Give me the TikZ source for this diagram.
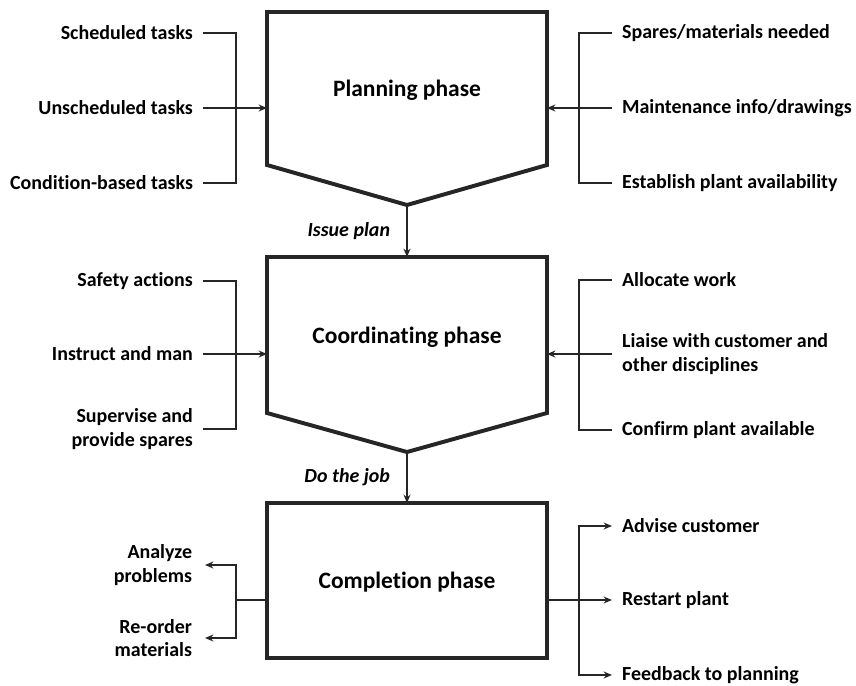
\documentclass[tikz,border=0pt]{standalone}
\usepackage{fontspec}
\setmainfont{Carlito}[Ligatures=NoCommon]
\usetikzlibrary{arrows.meta}

\tikzset{
  phasebox/.style = {line width=2.8pt, line join=miter, draw=black!85},
  phasetxt/.style = {font=\fontsize{16.7}{20}\selectfont\bfseries},
  itemL/.style = {anchor=east, align=right, inner xsep=7pt, inner ysep=0pt,
                  font=\fontsize{14.2}{16.5}\selectfont\bfseries},
  itemR/.style = {anchor=west, align=left, inner xsep=7pt, inner ysep=0pt,
                  font=\fontsize{14.2}{16.5}\selectfont\bfseries},
  steplbl/.style = {anchor=east, font=\fontsize{14.2}{16.5}\selectfont\bfseries\itshape},
  conn/.style = {line width=1pt, draw=black!85},
  arr/.style = {conn, -{Stealth[length=6pt,width=5pt]}}
}

\begin{document}
\begin{tikzpicture}[x=0.025cm, y=-0.025cm]
  \useasboundingbox (0,0) rectangle (856,685);

  % planning phase
  \draw[phasebox] (267,12) -- (547,12) -- (547,165) -- (407,205) -- (267,165) -- cycle;
  \node[phasetxt] (plan) at (407,90) {Planning phase};
  \coordinate (plan-w) at (267,108);
  \coordinate (plan-e) at (547,108);
  \coordinate (plan-s) at (407,205);

  \node[itemL] (sched)   at (203,33)  {Scheduled tasks};
  \node[itemL] (unsched) at (203,108) {Unscheduled tasks};
  \node[itemL] (condit)  at (203,183) {Condition-based tasks};
  \coordinate (planL) at (236,108);
  \draw[conn] (sched.east) -| (planL) |- (condit.east);
  \draw[arr] (unsched.east) -- (plan-w);

  \node[itemR] (spares) at (612,33)  {Spares/materials needed};
  \node[itemR] (maint)  at (612,108) {Maintenance info/drawings};
  \node[itemR] (avail)  at (612,183) {Establish plant availability};
  \coordinate (planR) at (579,108);
  \draw[conn] (spares.west) -| (planR) |- (avail.west);
  \draw[arr] (maint.west) -- (plan-e);

  % coordinating phase
  \draw[phasebox] (267,257) -- (547,257) -- (547,413) -- (407,452) -- (267,413) -- cycle;
  \node[phasetxt] (coord) at (407,337) {Coordinating phase};
  \coordinate (coord-n) at (407,257);
  \coordinate (coord-w) at (267,354);
  \coordinate (coord-e) at (547,354);
  \coordinate (coord-s) at (407,452);

  \draw[arr] (plan-s) -- (coord-n);
  \node[steplbl] (issue) at (395,231) {Issue plan};

  \node[itemL] (safety) at (203,281) {Safety actions};
  \node[itemL] (instr)  at (203,354) {Instruct and man};
  \node[itemL] (superv) at (203,429) {Supervise and\\provide spares};
  \coordinate (coordL) at (236,354);
  \draw[conn] (safety.east) -| (coordL) |- (superv.east);
  \draw[arr] (instr.east) -- (coord-w);

  \node[itemR] (alloc)   at (612,280) {Allocate work};
  \node[itemR] (liaise)  at (612,354) {Liaise with customer and\\other disciplines};
  \node[itemR] (confirm) at (612,430) {Confirm plant available};
  \coordinate (coordR) at (579,354);
  \draw[conn] (alloc.west) -| (coordR) |- (confirm.west);
  \draw[arr] (liaise.west) -- (coord-e);

  % completion phase
  \draw[phasebox] (267,503) rectangle (547,658);
  \node[phasetxt] (compl) at (407,582) {Completion phase};
  \coordinate (compl-n) at (407,503);
  \coordinate (compl-w) at (267,600);
  \coordinate (compl-e) at (547,600);

  \draw[arr] (coord-s) -- (compl-n);
  \node[steplbl] (dojob) at (395,477) {Do the job};

  \node[itemL, inner xsep=9pt] (analyze) at (205,565) {Analyze\\problems};
  \node[itemL, inner xsep=9pt] (reorder) at (205,638) {Re-order\\materials};
  \coordinate (complL) at (236,600);
  \draw[conn] (compl-w) -- (complL);
  \draw[arr] (complL) |- (analyze.east);
  \draw[arr] (complL) |- (reorder.east);

  \node[itemR] (advise)   at (612,526) {Advise customer};
  \node[itemR] (restart)  at (612,600) {Restart plant};
  \node[itemR] (feedback) at (612,675) {Feedback to planning};
  \coordinate (complR) at (579,600);
  \draw[arr] (compl-e) -- (restart.west);
  \draw[arr] (complR) |- (advise.west);
  \draw[arr] (complR) |- (feedback.west);
\end{tikzpicture}
\end{document}
